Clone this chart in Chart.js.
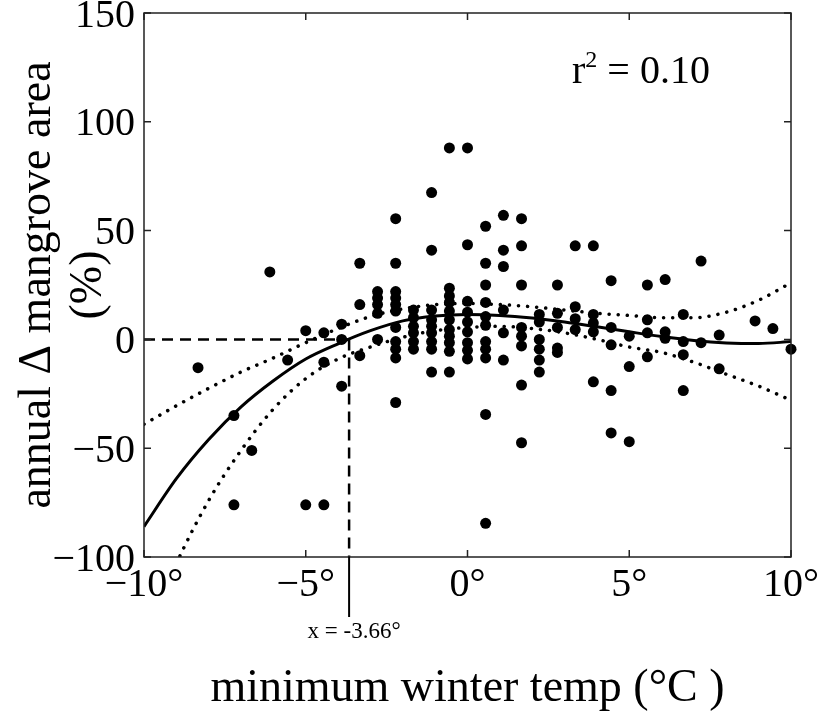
<!DOCTYPE html>
<html>
<head>
<meta charset="utf-8">
<title>Annual change in mangrove area vs minimum winter temperature</title>
<script src="https://cdn.jsdelivr.net/npm/chart.js@4.4.1/dist/chart.umd.min.js"></script>
<style>
  html, body { margin: 0; padding: 0; background: #fff; }
  #chart { display: block; }
</style>
</head>
<body>
<canvas id="chart" width="817" height="717"></canvas>
<script>
// sites: minimum winter temperature (°C) and annual change in mangrove area (%)
const tempC = [
  -8.33,
  -7.22, -7.22,
  -6.67,
  -6.11,
  -5.56,
  -5, -5,
  -4.44, -4.44, -4.44,
  -3.89, -3.89, -3.89,
  -3.33, -3.33, -3.33,
  -2.78, -2.78, -2.78, -2.78, -2.78,
  -2.22, -2.22, -2.22, -2.22, -2.22, -2.22, -2.22, -2.22, -2.22, -2.22, -2.22,
  -1.67, -1.67, -1.67, -1.67, -1.67, -1.67,
  -1.11, -1.11, -1.11, -1.11, -1.11, -1.11, -1.11, -1.11, -1.11,
  -0.56, -0.56, -0.56, -0.56, -0.56, -0.56, -0.56, -0.56, -0.56, -0.56, -0.56,
  0, 0, 0, 0, 0, 0, 0, 0, 0,
  0.56, 0.56, 0.56, 0.56, 0.56, 0.56, 0.56, 0.56, 0.56, 0.56, 0.56,
  1.11, 1.11, 1.11, 1.11, 1.11, 1.11,
  1.67, 1.67, 1.67, 1.67, 1.67, 1.67, 1.67, 1.67,
  2.22, 2.22, 2.22, 2.22, 2.22, 2.22,
  2.78, 2.78, 2.78, 2.78, 2.78,
  3.33, 3.33, 3.33, 3.33,
  3.89, 3.89, 3.89, 3.89, 3.89,
  4.44, 4.44, 4.44, 4.44, 4.44,
  5, 5, 5,
  5.56, 5.56, 5.56, 5.56,
  6.11, 6.11, 6.11,
  6.67, 6.67, 6.67, 6.67,
  7.22, 7.22,
  7.78, 7.78,
  8.89,
  9.44,
  10
];
const areaChange = [
  -13,
  -35, -76,
  -51,
  31,
  -9.5,
  4, -76,
  3, -10.5, -76,
  7, 0, -21.5,
  35, 16, -7.5,
  22, 19, 16, 12, 0,
  55.5, 35, 22, 19, 16, 13, 5.5, -1, -4.5, -8.5, -29,
  13.5, 10, 6, 3, -1, -4.5,
  67.5, 41, 13.5, 9, 6, 3, -1, -4.5, -15,
  88, 23.5, 20, 17, 13, 9, 4.5, 1.5, -1.5, -5.5, -15,
  88, 43.5, 17.5, 12.5, 8, 3.5, -1.5, -5, -9,
  52, 35, 25, 17, 10.5, 6.5, -1, -4.5, -8.5, -34.5, -84.5,
  57, 41, 33.5, 13.5, 3, -9.5,
  55.5, 43, 25, 5.5, 1.5, -3, -21, -47.5,
  11.5, 8, 0, -4.5, -9.5, -15,
  25, 12, 5.5, -4, -6,
  43, 15, 9.5, 4.5,
  43, 11.5, 7.5, 3.5, -19.5,
  27, 5.5, -2.5, -23.5, -43,
  1.5, -12.5, -47,
  25, 9, 3, -8,
  27.5, 3.5, 0.5,
  11.5, -1, -7, -23.5,
  36, -1.5,
  2, -13.5,
  8.5,
  5,
  -4.5
];

// fitted curve and its confidence band
const fitTemp  = [-10, -9, -8, -7, -6, -5, -4, -3, -2, -1, 0, 1, 2, 3, 4, 5, 6, 7, 8, 9, 10];
const fitMean  = [-86, -64, -46, -31, -19, -9, -2, 4, 8.5, 10.7, 11.4, 11, 9.8, 8, 5.8, 3.5, 1.3, -0.5, -1.6, -1.9, -1];
const fitUpper = [-39, -30.5, -22.5, -15, -8.5, -1.5, 5, 10.5, 14, 16, 16.5, 16, 15, 13.5, 12, 11, 10, 10, 12.5, 18, 26];
const fitLower = [-138, -103, -74, -51, -32, -18, -9, -3.5, 1, 4, 5.5, 6, 5, 3, 0, -3.5, -6, -10.5, -16, -21.5, -28];

const crossTemp = -3.66;
const rSquared = '0.10';

const xTickValues = [-10, -5, 0, 5, 10];
const xTickLabels = ['\u221210\u00b0', '\u22125\u00b0', '0\u00b0', '5\u00b0', '10\u00b0'];
const yTickValues = [-100, -50, 0, 50, 100, 150];
const yTickLabels = ['\u2212100', '\u221250', '0', '50', '100', '150'];

const SERIF = '"Liberation Serif", "Times New Roman", serif';
Chart.defaults.color = '#000';
Chart.defaults.font.family = SERIF;

const pts = (xs, ys) => xs.map((x, i) => ({ x: x, y: ys[i] }));

// box with inward ticks, r² note and the threshold marker below the axis
const frame = {
  id: 'frame',
  afterDraw(chart) {
    const { ctx, chartArea: a, scales: { x, y } } = chart;
    ctx.save();
    ctx.strokeStyle = '#222';
    ctx.lineWidth = 1.5;
    ctx.strokeRect(a.left, a.top, a.right - a.left, a.bottom - a.top);
    ctx.beginPath();
    x.ticks.forEach(t => {
      const px = x.getPixelForValue(t.value);
      ctx.moveTo(px, a.bottom); ctx.lineTo(px, a.bottom - 7);
      ctx.moveTo(px, a.top); ctx.lineTo(px, a.top + 7);
    });
    y.ticks.forEach(t => {
      const py = y.getPixelForValue(t.value);
      ctx.moveTo(a.left, py); ctx.lineTo(a.left + 7, py);
      ctx.moveTo(a.right, py); ctx.lineTo(a.right - 7, py);
    });
    ctx.stroke();

    // r² = 0.10
    ctx.fillStyle = '#000';
    ctx.textBaseline = 'alphabetic';
    ctx.textAlign = 'left';
    let tx = 572, ty = 83;
    ctx.font = '40px ' + SERIF;
    ctx.fillText('r', tx, ty);
    tx += ctx.measureText('r').width;
    ctx.font = '24px ' + SERIF;
    ctx.fillText('2', tx, ty - 16);
    tx += ctx.measureText('2').width;
    ctx.font = '40px ' + SERIF;
    ctx.fillText(' = ' + rSquared, tx, ty);

    // solid tick below the axis and its label
    const cx = x.getPixelForValue(crossTemp);
    ctx.lineWidth = 2;
    ctx.strokeStyle = '#000';
    ctx.beginPath();
    ctx.moveTo(cx, a.bottom);
    ctx.lineTo(cx, a.bottom + 60);
    ctx.stroke();
    ctx.font = '23px ' + SERIF;
    ctx.textAlign = 'center';
    ctx.textBaseline = 'middle';
    ctx.fillText('x = ' + crossTemp + '\u00b0', cx + 5, 632);
    ctx.restore();
  }
};

new Chart(document.getElementById('chart'), {
  type: 'scatter',
  data: {
    datasets: [
      {
        label: 'threshold (horizontal)',
        data: [{ x: -10, y: 0 }, { x: crossTemp, y: 0 }],
        showLine: true, pointRadius: 0,
        borderColor: '#000', borderWidth: 2.5, borderDash: [11, 7]
      },
      {
        label: 'threshold (vertical)',
        data: [{ x: crossTemp, y: 0 }, { x: crossTemp, y: -100 }],
        showLine: true, pointRadius: 0,
        borderColor: '#000', borderWidth: 2.5, borderDash: [11, 7]
      },
      {
        label: 'upper 95%',
        data: pts(fitTemp, fitUpper),
        showLine: true, pointRadius: 0, cubicInterpolationMode: 'monotone',
        borderColor: '#000', borderWidth: 3.5, borderDash: [0.1, 9], borderCapStyle: 'round'
      },
      {
        label: 'lower 95%',
        data: pts(fitTemp, fitLower),
        showLine: true, pointRadius: 0, cubicInterpolationMode: 'monotone',
        borderColor: '#000', borderWidth: 3.5, borderDash: [0.1, 9], borderCapStyle: 'round'
      },
      {
        label: 'fit',
        data: pts(fitTemp, fitMean),
        showLine: true, pointRadius: 0, cubicInterpolationMode: 'monotone',
        borderColor: '#000', borderWidth: 3
      },
      {
        label: 'sites',
        data: pts(tempC, areaChange),
        pointRadius: 5.5, pointBackgroundColor: '#000', pointBorderWidth: 0,
        clip: false
      }
    ]
  },
  options: {
    responsive: false,
    animation: false,
    devicePixelRatio: 1,
    layout: { padding: { top: 13, right: 26, left: 0, bottom: 0 } },
    plugins: { legend: { display: false }, tooltip: { enabled: false } },
    scales: {
      x: {
        type: 'linear', min: -10, max: 10,
        afterBuildTicks: s => { s.ticks = xTickValues.map(v => ({ value: v })); },
        afterFit: s => { s.height = 160; s.paddingLeft = 0; s.paddingRight = 0; },
        grid: { display: false, drawTicks: false },
        border: { display: false },
        ticks: {
          padding: 4,
          font: { size: 40 },
          callback: v => xTickLabels[xTickValues.indexOf(v)]
        },
        title: {
          display: true,
          text: 'minimum winter temp (\u00b0C )',
          font: { size: 46, lineHeight: 1.2 },
          padding: { top: 0, bottom: 0 }
        }
      },
      y: {
        type: 'linear', min: -100, max: 150,
        afterBuildTicks: s => { s.ticks = yTickValues.map(v => ({ value: v })); },
        afterFit: s => { s.width = 144; s.paddingTop = 0; s.paddingBottom = 0; },
        grid: { display: false, drawTicks: false },
        border: { display: false },
        ticks: {
          padding: 9,
          labelOffset: 3,
          font: { size: 40 },
          callback: v => yTickLabels[yTickValues.indexOf(v)]
        },
        title: {
          display: true,
          text: ['annual \u0394 mangrove area', '(%)'],
          font: { size: 46, lineHeight: 1.1 },
          padding: { top: 13, bottom: 0 }
        }
      }
    }
  },
  plugins: [frame]
});
</script>
</body>
</html>
